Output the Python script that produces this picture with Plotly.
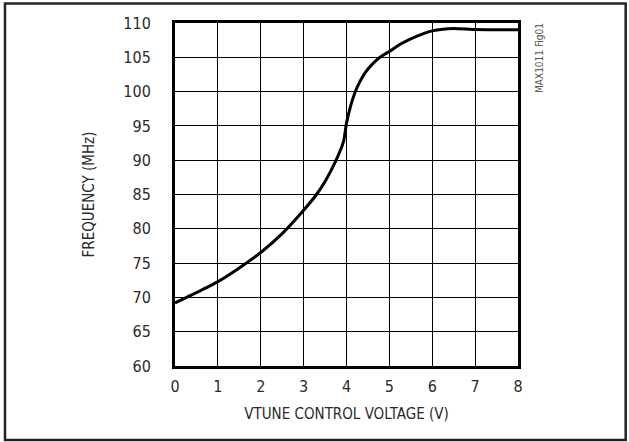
import plotly.graph_objects as go

# Data
vtune = [0, 0.5, 1, 1.5, 2, 2.5, 3, 3.3, 3.5, 3.75, 3.93, 4.0, 4.1, 4.2, 4.3, 4.4, 4.5, 4.7, 4.85, 5.0, 5.25, 5.5, 5.75, 6.0, 6.25, 6.5, 7.0, 8.0]
freq = [69.2, 70.7, 72.3, 74.3, 76.55, 79.3, 82.7, 85.0, 86.9, 89.9, 92.7, 95.4, 98.0, 99.9, 101.3, 102.4, 103.3, 104.6, 105.3, 105.85, 106.9, 107.7, 108.35, 108.85, 109.1, 109.2, 109.05, 109.0]

x_ticks = [0, 1, 2, 3, 4, 5, 6, 7, 8]
y_ticks = [60, 65, 70, 75, 80, 85, 90, 95, 100, 105, 110]

W, H = 629, 442
L, R, T, B = 174.5, 518.5, 22.5, 366
FONT = "DejaVu Sans Condensed, Liberation Sans Narrow, sans-serif"
TXT = "#2a2a2a"

def px(xp):
    return (xp - L) / (R - L)

def py(yp):
    return (B - yp) / (B - T)

fig = go.Figure()
fig.add_trace(go.Scatter(
    x=vtune, y=freq, mode="lines",
    line=dict(color="black", width=3, shape="spline", smoothing=0.5),
    hoverinfo="skip", showlegend=False,
))

fig.update_layout(
    width=W, height=H,
    margin=dict(l=L, r=W - R, t=T, b=H - B),
    paper_bgcolor="white", plot_bgcolor="white",
    font=dict(family=FONT, color=TXT, size=16),
    showlegend=False,
)
fig.update_xaxes(
    range=[0, 8], tickvals=x_ticks, ticktext=[str(v) for v in x_ticks],
    showgrid=True, gridcolor="black", gridwidth=1,
    showline=True, linecolor="black", linewidth=3, mirror=True,
    ticks="outside", ticklen=4, tickcolor="rgba(0,0,0,0)", zeroline=False,
    tickfont=dict(size=16, family=FONT, color=TXT),
    title=dict(text="VTUNE CONTROL VOLTAGE (V)", font=dict(size=15, family=FONT, color=TXT), standoff=14),
)
fig.update_yaxes(
    range=[60, 110], tickvals=y_ticks, ticktext=[str(v) for v in y_ticks],
    showgrid=True, gridcolor="black", gridwidth=1,
    showline=True, linecolor="black", linewidth=3, mirror=True,
    ticks="outside", ticklen=18, tickcolor="rgba(0,0,0,0)", zeroline=False,
    tickfont=dict(size=16, family=FONT, color=TXT),
    title=dict(text="FREQUENCY (MHz)", font=dict(size=15, family=FONT, color=TXT), standoff=26),
)

fig.add_annotation(
    text="MAX1011 Fig01", textangle=-90, showarrow=False,
    xref="paper", yref="paper", x=px(540), y=py(20), xanchor="center", yanchor="top",
    font=dict(size=10, family="DejaVu Sans Condensed, Liberation Sans, sans-serif", color="#555"),
)

# outer frame
fig.add_shape(type="rect", xref="paper", yref="paper",
              x0=px(4), x1=px(626.5), y0=py(440), y1=py(3),
              line=dict(color="#222", width=2.5), layer="below")

fig.write_html(
    "out.html",
    config={"displayModeBar": False, "staticPlot": True},
    post_script="document.body.style.margin='0';document.body.style.padding='0';",
)
